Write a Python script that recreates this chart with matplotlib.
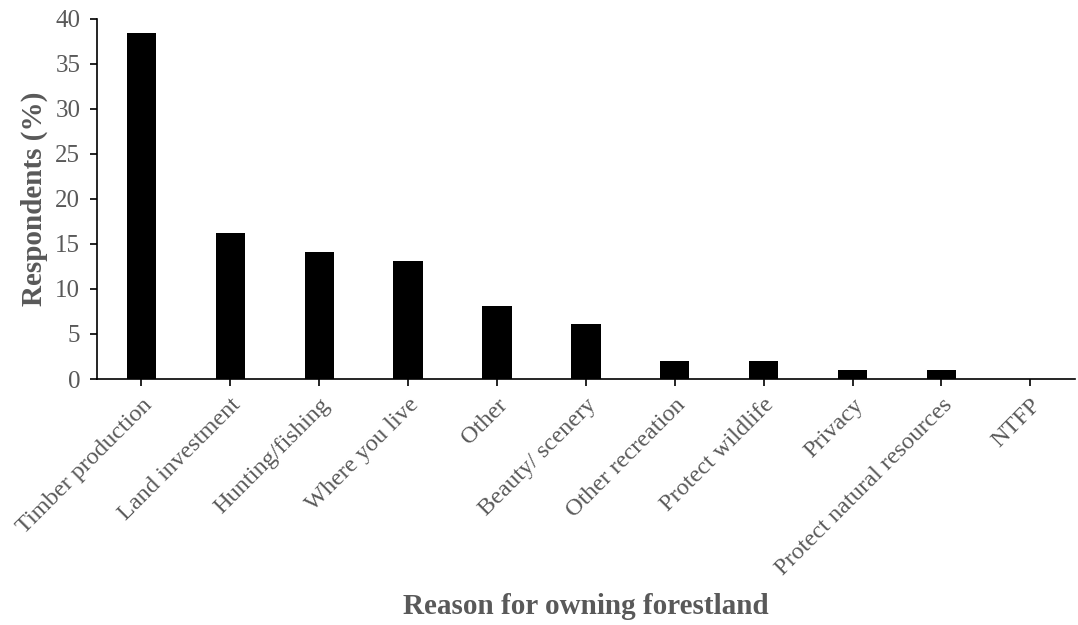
import matplotlib
matplotlib.use("Agg")
import matplotlib.pyplot as plt

categories = ["Timber production", "Land investment", "Hunting/fishing", "Where you live",
              "Other", "Beauty/ scenery", "Other recreation", "Protect wildlife",
              "Privacy", "Protect natural resources", "NTFP"]
values = [38.4, 16.2, 14.1, 13.1, 8.1, 6.1, 2.0, 2.0, 1.0, 1.0, 0.0]
yticks = [0, 5, 10, 15, 20, 25, 30, 35, 40]

plt.rcParams['font.family'] = ['Liberation Serif', 'DejaVu Serif']
grey = '#595959'

fig = plt.figure(figsize=(10.78, 6.25), dpi=100)
ax = fig.add_axes([0.09, 0.3936, 0.907, 0.5764])
x = list(range(len(categories)))
ax.bar(x, values, width=0.33, color='black')
ax.set_xlim(-0.5, len(categories) - 0.5)
ax.set_ylim(0, 40)
ax.set_yticks(yticks)
ax.set_xticks(x)
ax.set_xticklabels(categories, rotation=45, ha='right', rotation_mode='anchor')
ax.tick_params(axis='both', labelcolor=grey, direction='out', length=5, width=1.2)
ax.tick_params(axis='x', labelsize=17.5, pad=6)
ax.tick_params(axis='y', labelsize=18, pad=7)
for s in ['top', 'right']:
    ax.spines[s].set_visible(False)
for s in ['left', 'bottom']:
    ax.spines[s].set_linewidth(1.2)
ax.set_ylabel('Respondents (%)', fontsize=21, fontweight='bold', color=grey, labelpad=5)
ax.set_xlabel('Reason for owning forestland', fontsize=21, fontweight='bold', color=grey, labelpad=10)
fig.savefig('out.png', dpi=100)
